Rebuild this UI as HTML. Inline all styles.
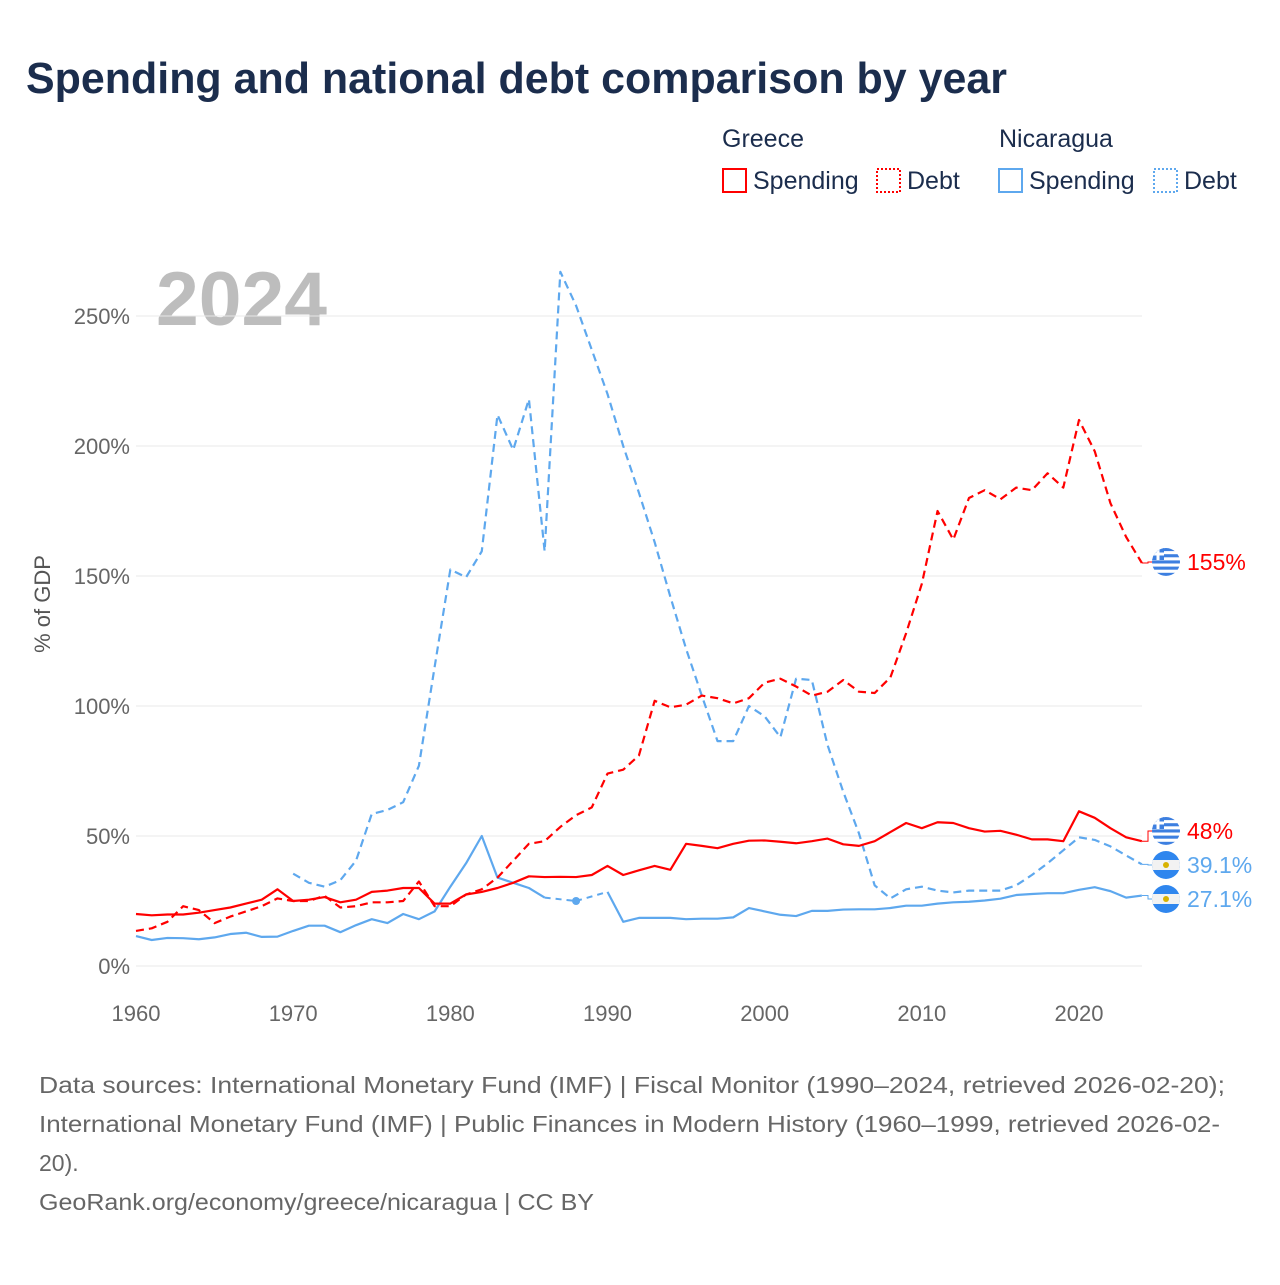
<!DOCTYPE html>
<html><head><meta charset="utf-8"><style>
html,body{margin:0;padding:0;background:#fff;}
body{width:1280px;height:1280px;overflow:hidden;font-family:"Liberation Sans",sans-serif;}
</style></head><body>
<svg id="chart" width="1280" height="1280" xmlns="http://www.w3.org/2000/svg" style="font-family:'Liberation Sans',sans-serif">
<defs><clipPath id="flagclip"><circle cx="0" cy="0" r="14"/></clipPath></defs>
<text x="26" y="93" font-size="44" font-weight="bold" fill="#1b2d4d" textLength="981" lengthAdjust="spacingAndGlyphs">Spending and national debt comparison by year</text>
<g font-size="25" fill="#1b2d4d">
<text x="722" y="147">Greece</text>
<text x="999" y="147">Nicaragua</text>
<rect x="723" y="169" width="23" height="23" fill="none" stroke="#f00" stroke-width="2"/>
<text x="753" y="189">Spending</text>
<rect x="877" y="169" width="23" height="23" fill="none" stroke="#f00" stroke-width="2" stroke-dasharray="2,2"/>
<text x="907" y="189">Debt</text>
<rect x="999" y="169" width="23" height="23" fill="none" stroke="#5ea8ee" stroke-width="2"/>
<text x="1029" y="189">Spending</text>
<rect x="1154" y="169" width="23" height="23" fill="none" stroke="#5ea8ee" stroke-width="2" stroke-dasharray="2,2"/>
<text x="1184" y="189">Debt</text>
</g>
<text x="156" y="325" font-size="76" font-weight="bold" fill="#bdbdbd" textLength="171" lengthAdjust="spacingAndGlyphs">2024</text>
<text transform="translate(50,604) rotate(-90)" text-anchor="middle" font-size="22" fill="#555">% of GDP</text>
<g id="grid"></g><g id="lines"></g><g id="labels"></g>
<g font-size="23" fill="#666">
<text x="39" y="1093" textLength="1186" lengthAdjust="spacingAndGlyphs">Data sources: International Monetary Fund (IMF) | Fiscal Monitor (1990–2024, retrieved 2026-02-20);</text>
<text x="39" y="1132" textLength="1181" lengthAdjust="spacingAndGlyphs">International Monetary Fund (IMF) | Public Finances in Modern History (1960–1999, retrieved 2026-02-</text>
<text x="39" y="1171">20).</text>
<text x="39" y="1210" textLength="555" lengthAdjust="spacingAndGlyphs">GeoRank.org/economy/greece/nicaragua | CC BY</text>
</g>
</svg>
<script>
const years = [];for(let y=1960;y<=2024;y++)years.push(y);
const yTicks=[0,50,100,150,200,250];
const yTickLabels=["0%","50%","100%","150%","200%","250%"];
const xTicks=[1960,1970,1980,1990,2000,2010,2020];
const greeceSpending=[20,19.5,19.8,19.8,20.5,21.5,22.5,24,25.5,29.5,25,25.5,26.5,24.5,25.5,28.5,29,30,30,24,24,27.5,28.5,30,32,34.5,34.2,34.3,34.2,35,38.5,35,36.8,38.5,37,47,46.2,45.3,47,48.2,48.3,47.8,47.2,48,49,46.8,46.2,48,51.5,55,53,55.3,55,53,51.7,52,50.5,48.7,48.7,48,59.5,57,53,49.5,48];
const greeceDebt=[13.5,14.5,17,23,21.5,16.5,19,21,23,26,25,25,27,22.5,23,24.5,24.5,25,32.5,23,23,27.5,29.5,34,40.5,47,48,53.5,58,61,74,75.5,81,102,99.5,100.5,104,103,101,103,109,110.5,107.5,104,105.5,110,105.5,105,111,128,147,175,164,180,183,179.5,184,183,189.5,184,210,198,178,165,155];
const nicSpending=[11.5,10,10.8,10.7,10.3,11,12.3,12.8,11.2,11.3,13.5,15.5,15.5,13,15.7,18,16.5,20,18,21,30.5,39.5,50,34,32,30,26.3,null,25,null,28.5,17,18.5,18.5,18.5,18,18.2,18.2,18.7,22.3,21,19.7,19.2,21.2,21.2,21.7,21.8,21.8,22.3,23.2,23.2,24,24.5,24.7,25.2,25.9,27.3,27.7,28,28,29.3,30.3,28.8,26.3,27.1];
const nicDebt=[null,null,null,null,null,null,null,null,null,null,35.5,32,30.5,33,40.5,58.5,60,63,77,115,152.5,149.5,159.5,212,198.5,218,159.5,267,254,237,220,200,182,163,142,122,104,86.5,86.5,100,96,88,110.5,110,85,67,51,31,26,29.5,30.5,29,28.3,29,29,29,31,35,39.5,44.5,49.5,48.5,46,42.5,39.1];
const endLabels=["155%","48%","39.1%","27.1%"];
const X=y=>136+(y-1960)*(943/60);
const Y=v=>966-v*2.6;
const NS="http://www.w3.org/2000/svg";
function mk(t,a,p){const e=document.createElementNS(NS,t);for(const k in a)e.setAttribute(k,a[k]);p.appendChild(e);return e;}
const grid=document.getElementById('grid');
yTicks.forEach((v,i)=>{
 const l=mk('line',{x1:136,x2:1142,y1:Y(v),y2:Y(v),stroke:'#e8e8e8','stroke-width':1},grid);
 
 
 const t=mk('text',{x:130,y:Y(v)+8,'text-anchor':'end','font-size':22,fill:'#666'},grid);
 t.textContent=yTickLabels[i];
 
 
});
xTicks.forEach(yr=>{
 const t=mk('text',{x:X(yr),y:1021,'text-anchor':'middle','font-size':22,fill:'#666'},grid);
 t.textContent=yr;
 
 
});
const lines=document.getElementById('lines');
function series(vals,color,dashed,name){
 const g=mk('g',{},lines);
 
 
 let seg=[];const segs=[];
 vals.forEach((v,i)=>{if(v==null){if(seg.length)segs.push(seg);seg=[];}else seg.push([X(years[i]),Y(v)]);});
 if(seg.length)segs.push(seg);
 segs.forEach((s,k)=>{
  if(k>0){const p=segs[k-1][segs[k-1].length-1];mk('line',{x1:p[0],y1:p[1],x2:s[0][0],y2:s[0][1],stroke:color,'stroke-width':2,'stroke-dasharray':'6,5'},g);}
  if(s.length==1)mk('circle',{cx:s[0][0],cy:s[0][1],r:4,fill:color},g);
  else{const a={points:s.map(p=>p.join(',')).join(' '),fill:'none',stroke:color,'stroke-width':2.2,'stroke-linejoin':'round'};if(dashed)a['stroke-dasharray']='8,5';mk('polyline',a,g);}
 });
}
series(nicSpending,'#5ea8ee',false,'nicaragua-spending-line');
series(nicDebt,'#5ea8ee',true,'nicaragua-debt-line');
series(greeceSpending,'#f00',false,'greece-spending-line');
series(greeceDebt,'#f00',true,'greece-debt-line');
const labels=document.getElementById('labels');
const ends=[[greeceDebt[64],'#f00',562,'gr'],[greeceSpending[64],'#f00',831,'gr'],[nicDebt[64],'#5ea8ee',865,'ni'],[nicSpending[64],'#5ea8ee',899,'ni']];
ends.forEach((e,i)=>{
 const g=mk('g',{},labels);
 
 
 mk('polyline',{points:`1142,${Y(e[0])} 1148,${Y(e[0])} 1148,${e[2]} 1152,${e[2]}`,fill:'none',stroke:e[1],'stroke-width':1},g);
 const f=mk('g',{transform:`translate(1166,${e[2]})`,'clip-path':'url(#flagclip)'},g);
 if(e[3]=='gr'){
  mk('rect',{x:-14,y:-14,width:28,height:28,fill:'#fff'},f);
  for(let k=0;k<5;k++)mk('rect',{x:-14,y:-14+k*6.2,width:28,height:3.1,fill:'#3d7fe0'},f);
  mk('rect',{x:-14,y:-14,width:12,height:12,fill:'#3d7fe0'},f);
  mk('rect',{x:-9.5,y:-14,width:3,height:12,fill:'#fff'},f);
  mk('rect',{x:-14,y:-9.5,width:12,height:3,fill:'#fff'},f);
 }else{
  mk('rect',{x:-14,y:-14,width:28,height:28,fill:'#2f86ee'},f);
  mk('rect',{x:-14,y:-5,width:28,height:10,fill:'#f2f2f2'},f);
  mk('circle',{cx:0,cy:0,r:3,fill:'#d8b200'},f);
 }
 const t=mk('text',{x:1187,y:e[2]+8,'font-size':23,fill:e[1]},g);
 t.textContent=endLabels[i];
});
</script>
</body></html>
